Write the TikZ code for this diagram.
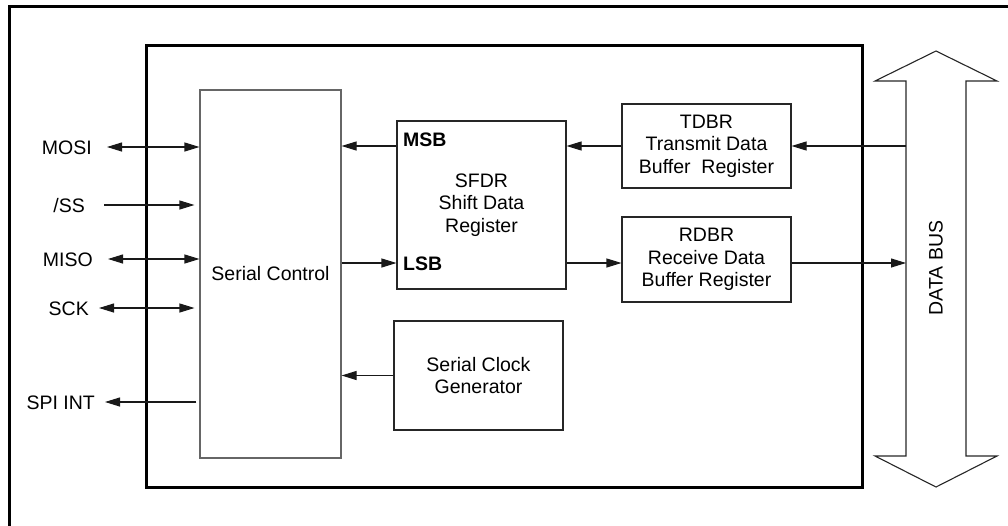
\documentclass[tikz,border=0pt]{standalone}
\usepackage{fontspec}
\setmainfont{Liberation Sans}
\usetikzlibrary{arrows.meta}
\begin{document}
\begin{tikzpicture}[x=1pt,y=-1pt,
  txt/.style={font=\fontsize{19.5}{22.5}\selectfont},
  box/.style={txt, draw=black!85, line width=1.1pt, align=center, inner sep=0pt},
  lbl/.style={txt, inner sep=0pt, anchor=east, text height=14pt, text depth=0pt},
  bitlbl/.style={txt, font=\fontsize{19.5}{22.5}\selectfont\bfseries, inner sep=0pt, anchor=west, text height=14pt, text depth=0pt},
  conn/.style={line width=1.1pt, draw=black!90},
  arr/.style={conn, -{Triangle[length=15pt,width=9pt]}},
  darr/.style={conn, {Triangle[length=15pt,width=9pt]}-{Triangle[length=15pt,width=9pt]}}]
\useasboundingbox (0,0) rectangle (1008,525);
% frames
\draw[line width=3pt] (9,527) -- (9,6) -- (1010,6);
\draw[line width=3pt] (146,45) rectangle (862,487);
% blocks
\node[box, draw=black!60, minimum width=141pt, minimum height=368pt] (sc) at (270.5,274) {Serial Control};
\node[box, minimum width=169pt, minimum height=168pt] (sfdr) at (481.5,205) {SFDR\\Shift Data\\Register};
\node[box, minimum width=169pt, minimum height=84pt] (tdbr) at (706.5,146) {TDBR\\Transmit Data\\Buffer\ \ Register};
\node[box, minimum width=169pt, minimum height=85pt] (rdbr) at (706.5,259.5) {RDBR\\Receive Data\\Buffer Register};
\node[box, minimum width=169pt, minimum height=109pt] (scg) at (478.5,375.5) {Serial Clock\\Generator};
\node[bitlbl] (msb) at (403,139) {MSB};
\node[bitlbl] (lsb) at (403,263) {LSB};
% pin labels
\node[lbl] (mosi) at (92,147) {MOSI};
\node[lbl] (ss) at (85,205) {/SS};
\node[lbl] (miso) at (93,259) {MISO};
\node[lbl] (sck) at (89,308) {SCK};
\node[lbl] (spi) at (95,402) {SPI INT};
% data bus
\coordinate (busL) at (906,0);
\coordinate (lsbrow) at (0,263);
\draw[line width=1.1pt, draw=black!85] (936,51) -- (997,81) -- (966,81) -- (966,456) -- (997,456) -- (936,487) -- (875,456) -- (906,456) -- (906,81) -- (875,81) -- cycle;
\node[txt, rotate=90] (bus) at (936,268) {DATA BUS};
% pin connectors
\draw[darr] ([xshift=15pt]mosi.east) -- (mosi.east -| sc.west);
\draw[arr, shorten >=5pt] ([xshift=19pt]ss.east) -- (ss.east -| sc.west);
\draw[darr] ([xshift=15pt]miso.east) -- (miso.east -| sc.west);
\draw[darr, shorten >=5pt] ([xshift=10pt]sck.east) -- (sck.east -| sc.west);
\draw[arr, shorten <=3pt] (spi.east -| sc.west) -- ([xshift=10pt]spi.east);
% internal connectors
\draw[arr] (busL |- tdbr.east) -- (tdbr.east);
\draw[arr] (tdbr.west) -- (tdbr.west -| sfdr.east);
\draw[arr] (tdbr.west -| sfdr.west) -- (tdbr.west -| sc.east);
\draw[arr] (sc.east |- lsbrow) -- (sfdr.west |- lsbrow);
\draw[arr] (sfdr.east |- lsbrow) -- (rdbr.west |- lsbrow);
\draw[arr] (rdbr.east |- lsbrow) -- (busL |- lsbrow);
\draw[arr] (scg.west) -- (scg.west -| sc.east);
\end{tikzpicture}
\end{document}
